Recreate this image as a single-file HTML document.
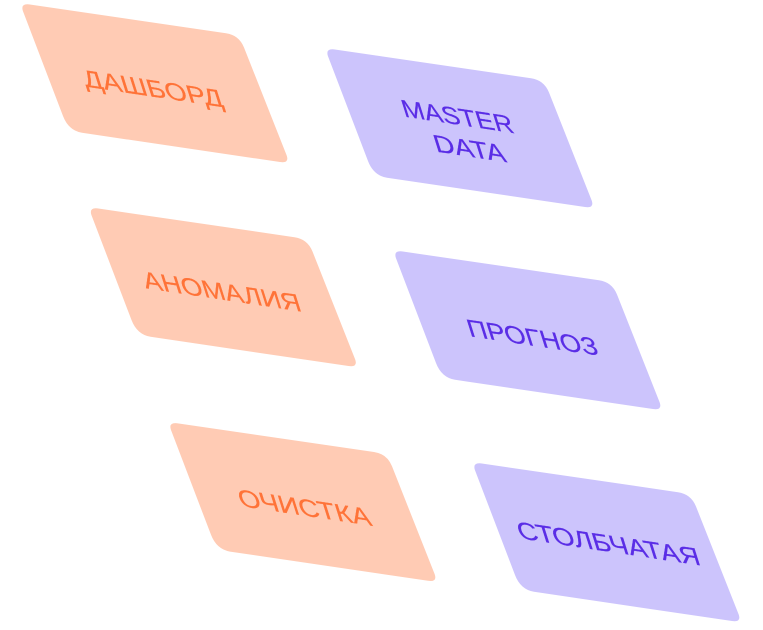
<!DOCTYPE html>
<html><head><meta charset="utf-8">
<style>
html,body{margin:0;padding:0;background:#fff;width:763px;height:630px;overflow:hidden}
svg{display:block}
text{font-family:"Liberation Sans","DejaVu Sans",sans-serif;font-size:26px;text-anchor:middle;stroke-width:.25}
.o path{fill:#FFCBB4}.o text{fill:#FF7338;stroke:#FF7338}
.v path{fill:#CCC4FC}.v text{fill:#5A2DE6;stroke:#5A2DE6}
</style></head><body>
<svg width="763" height="630" viewBox="0 0 763 630" xmlns="http://www.w3.org/2000/svg">
<g class="o"><path d="M29 4.4 L226 33.2 Q239 35 244 47.5 L286.7 155.5 Q289.5 163.5 280 162 L82 132.8 Q68.5 130.5 63 116 L22.9 11 Q20.5 3.4 29 4.4Z"/>
<path transform="translate(68.5 204)" d="M29 4.4 L226 33.2 Q239 35 244 47.5 L286.7 155.5 Q289.5 163.5 280 162 L82 132.8 Q68.5 130.5 63 116 L22.9 11 Q20.5 3.4 29 4.4Z"/>
<path transform="translate(148 418.8)" d="M29 4.4 L226 33.2 Q239 35 244 47.5 L286.7 155.5 Q289.5 163.5 280 162 L82 132.8 Q68.5 130.5 63 116 L22.9 11 Q20.5 3.4 29 4.4Z"/>
<text transform="matrix(1 .15 .3 .95 155.5 97)" textLength="139" lengthAdjust="spacingAndGlyphs">ДАШБОРД</text>
<text transform="matrix(1 .15 .3 .95 224.5 300)" textLength="157" lengthAdjust="spacingAndGlyphs">АНОМАЛИЯ</text>
<text transform="matrix(1 .15 .3 .95 307 516)" textLength="132" lengthAdjust="spacingAndGlyphs">ОЧИСТКА</text></g>
<g class="v"><path transform="translate(305 45)" d="M29 4.4 L226 33.2 Q239 35 244 47.5 L286.7 155.5 Q289.5 163.5 280 162 L82 132.8 Q68.5 130.5 63 116 L22.9 11 Q20.5 3.4 29 4.4Z"/>
<path transform="translate(373 247)" d="M29 4.4 L226 33.2 Q239 35 244 47.5 L286.7 155.5 Q289.5 163.5 280 162 L82 132.8 Q68.5 130.5 63 116 L22.9 11 Q20.5 3.4 29 4.4Z"/>
<path transform="translate(452 459)" d="M29 4.4 L226 33.2 Q239 35 244 47.5 L286.7 155.5 Q289.5 163.5 280 162 L82 132.8 Q68.5 130.5 63 116 L22.9 11 Q20.5 3.4 29 4.4Z"/>
<text transform="matrix(1 .15 .3 .95 460 125)" textLength="111" lengthAdjust="spacingAndGlyphs">MASTER</text>
<text transform="matrix(1 .15 .3 .95 472 157)" textLength="71" lengthAdjust="spacingAndGlyphs">DATA</text>
<text transform="matrix(1 .15 .3 .95 535 346)" textLength="130" lengthAdjust="spacingAndGlyphs">ПРОГНОЗ</text>
<text transform="matrix(1 .15 .3 .95 611 552)" textLength="182" lengthAdjust="spacingAndGlyphs">СТОЛБЧАТАЯ</text></g>
</svg>
</body></html>
